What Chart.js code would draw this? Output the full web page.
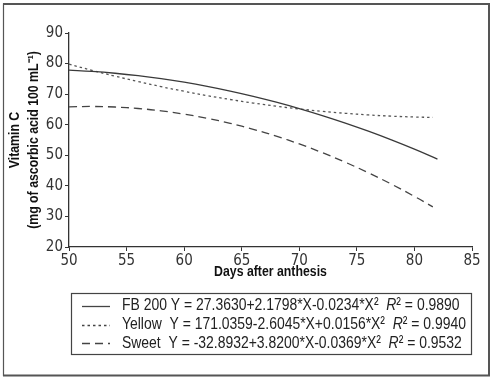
<!DOCTYPE html>
<html>
<head>
<meta charset="utf-8">
<script src="https://cdn.jsdelivr.net/npm/chart.js@4"></script>
<style>
html,body{margin:0;padding:0;background:#fff;}
#wrap{position:relative;width:494px;height:381px;}
</style>
</head>
<body>
<div id="wrap"><canvas id="c" width="494" height="381"></canvas></div>
<script>
// Days after anthesis (x) and Vitamin C values
const daysFB = [50,52,54,56,58,60,62,64,66,68,70,72,74,76,78,80,82];
const fb200 = [77.85,77.44,76.84,76.05,75.07,73.91,72.56,71.02,69.30,67.39,65.29,63.00,60.53,57.87,55.02,51.99,48.77];
const daysYS = [50,52,54,56,58,60,62,64,66,68,70,72,74,76,78,80,81.6];
const yellow = [79.81,77.78,75.88,74.11,72.45,70.93,69.52,68.25,67.09,66.06,65.16,64.38,63.73,63.20,62.80,62.52,62.38];
const sweet = [65.86,65.97,65.79,65.31,64.54,63.47,62.10,60.44,58.49,56.24,53.70,50.86,47.72,44.29,40.57,36.55,33.12];

const seriesNames = ['FB 200','Yellow ','Sweet '];
const equations = ['Y = 27.3630+2.1798*X-0.0234*X²','Y = 171.0359-2.6045*X+0.0156*X²','Y = -32.8932+3.8200*X-0.0369*X²'];
const r2Values = ['0.9890','0.9940','0.9532'];
const xTitle = 'Days after anthesis';
const yTitle = ['Vitamin C','(mg of ascorbic acid 100 mL⁻¹)'];

const FONT = '"DejaVu Sans Condensed","Liberation Sans",sans-serif';
const NARROW = '"Liberation Sans",Arial,sans-serif';
const SQ = 0.82; // horizontal condensation for narrow text
const INK = '#333';
const dashes = [[], [2.5,3], [8,5]];

function pts(xs, ys){ return xs.map((x,i)=>({x:x,y:ys[i]})); }

function narrowText(ctx, text, x, y, font){
  ctx.save();
  ctx.font = font;
  ctx.translate(x, y);
  ctx.scale(SQ, 1);
  ctx.fillText(text, 0, 0);
  const w = ctx.measureText(text).width * SQ;
  ctx.restore();
  return w;
}

const decor = {
  id:'decor',
  afterDraw(chart){
    const ctx = chart.ctx, a = chart.chartArea;
    ctx.save();
    // outer frame
    ctx.strokeStyle = '#555';
    ctx.lineWidth = 1.2;
    ctx.beginPath(); ctx.moveTo(3.5,3.5); ctx.lineTo(3.5,376); ctx.stroke();
    ctx.lineWidth = 2;
    ctx.beginPath(); ctx.moveTo(3,4); ctx.lineTo(489,4); ctx.lineTo(489,375.5); ctx.lineTo(3,375.5); ctx.stroke();
    // axis titles
    ctx.fillStyle = '#111';
    ctx.textAlign = 'center'; ctx.textBaseline = 'middle';
    narrowText(ctx, xTitle, (a.left+a.right)/2, 272, 'bold 15px ' + NARROW);
    const cy = (a.top+a.bottom)/2;
    ctx.save(); ctx.translate(15, cy); ctx.rotate(-Math.PI/2); narrowText(ctx, yTitle[0], 0, 0, 'bold 15px ' + NARROW); ctx.restore();
    ctx.save(); ctx.translate(34, cy); ctx.rotate(-Math.PI/2); narrowText(ctx, yTitle[1], 0, 0, 'bold 15px ' + NARROW); ctx.restore();
    // legend box
    ctx.strokeStyle = '#444'; ctx.lineWidth = 1.2;
    ctx.strokeRect(71.5, 293.5, 400, 61);
    const rows = [305.5, 324.5, 343];
    ctx.textAlign = 'left'; ctx.textBaseline = 'middle';
    for (let i=0;i<3;i++){
      const y = rows[i];
      ctx.strokeStyle = '#444'; ctx.lineWidth = 1.3;
      ctx.setLineDash(dashes[i]);
      ctx.beginPath(); ctx.moveTo(82, Math.round(y)+0.5); ctx.lineTo(110, Math.round(y)+0.5); ctx.stroke();
      ctx.setLineDash([]);
      ctx.fillStyle = '#222';
      let x = 122;
      const t1 = seriesNames[i] + ' ' + equations[i] + '  ';
      x += narrowText(ctx, t1, x, y, '17px ' + NARROW);
      x += narrowText(ctx, 'R', x, y, 'italic 17px ' + NARROW);
      narrowText(ctx, '² = ' + r2Values[i], x, y, '17px ' + NARROW);
    }
    ctx.restore();
  }
};

new Chart(document.getElementById('c'), {
  type:'line',
  data:{
    datasets:[
      {label:seriesNames[0], data:pts(daysFB, fb200), borderColor:'#3a3a3a', borderWidth:1.3, borderDash:dashes[0], pointRadius:0, tension:0.4, fill:false},
      {label:seriesNames[1], data:pts(daysYS, yellow), borderColor:'#555', borderWidth:1.3, borderDash:dashes[1], pointRadius:0, tension:0.4, fill:false},
      {label:seriesNames[2], data:pts(daysYS, sweet), borderColor:'#444', borderWidth:1.3, borderDash:dashes[2], pointRadius:0, tension:0.4, fill:false}
    ]
  },
  options:{
    responsive:false, animation:false, devicePixelRatio:1,
    layout:{padding:{left:29, right:22, top:33, bottom:114}},
    plugins:{legend:{display:false}, tooltip:{enabled:false}},
    scales:{
      x:{type:'linear', min:50, max:85,
         ticks:{stepSize:5, color:INK, font:{family:FONT, size:15}, padding:1, maxRotation:0},
         grid:{drawOnChartArea:false, tickLength:4, color:INK, tickColor:INK},
         border:{color:INK, width:1.3},
         afterFit(s){ s.height = 20; }},
      y:{min:20, max:90,
         ticks:{stepSize:10, color:INK, font:{family:FONT, size:15}, padding:2},
         grid:{drawOnChartArea:false, tickLength:4, color:INK, tickColor:INK},
         border:{color:INK, width:1.3},
         afterFit(s){ s.width = 40; }}
    }
  },
  plugins:[decor]
});
</script>
</body>
</html>
